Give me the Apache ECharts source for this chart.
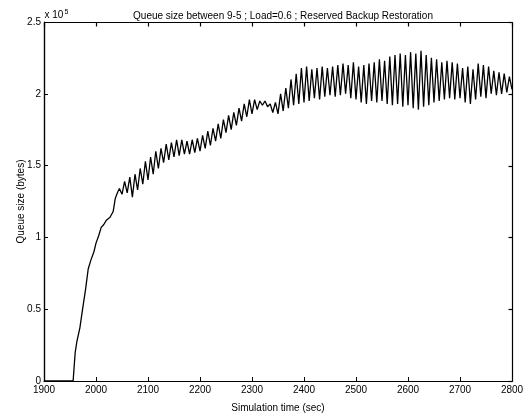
<!DOCTYPE html>
<html>
<head>
<meta charset="utf-8">
<script src="https://cdn.jsdelivr.net/npm/echarts@6/dist/echarts.min.js"></script>
<style>
  html, body { margin: 0; padding: 0; background: #fff; }
  #chart { width: 530px; height: 418px; }
</style>
</head>
<body>
<div id="chart"></div>
<script>
// simulation time (sec)
const time = [
  1900, 1956, 1958, 1960, 1963, 1969, 1975, 1980, 1985, 1990, 1996, 2000, 2005, 2010, 2015, 2020, 2027, 2033, 2037,
  2040, 2045, 2050, 2055, 2060, 2065, 2070, 2075, 2080, 2085, 2090, 2095,
  2100, 2105, 2110, 2115, 2120, 2125, 2130, 2135, 2140, 2145, 2150, 2155, 2160, 2165, 2170, 2175, 2180, 2185, 2190, 2195,
  2200, 2205, 2210, 2215, 2220, 2225, 2230, 2235, 2240, 2245, 2250, 2255, 2260, 2265, 2270, 2275, 2280, 2285, 2290, 2295,
  2300, 2305, 2310, 2315, 2320, 2325, 2330, 2335, 2340, 2345, 2350, 2355, 2360, 2365, 2370, 2375, 2380, 2385, 2390, 2395,
  2400, 2405, 2410, 2415, 2420, 2425, 2430, 2435, 2440, 2445, 2450, 2455, 2460, 2465, 2470, 2475, 2480, 2485, 2490, 2495,
  2500, 2505, 2510, 2515, 2520, 2525, 2530, 2535, 2540, 2545, 2550, 2555, 2560, 2565, 2570, 2575, 2580, 2585, 2590, 2595,
  2600, 2605, 2610, 2615, 2620, 2625, 2630, 2635, 2640, 2645, 2650, 2655, 2660, 2665, 2670, 2675, 2680, 2685, 2690, 2695,
  2700, 2705, 2710, 2715, 2720, 2725, 2730, 2735, 2740, 2745, 2750, 2755, 2760, 2765, 2770, 2775, 2780, 2785, 2790, 2795,
  2800
]
// queue size in units of 1e5 bytes
const queue = [
  0, 0, 0.10, 0.20, 0.27, 0.37, 0.52, 0.64, 0.78, 0.84, 0.90, 0.96, 1.01, 1.07, 1.09, 1.12, 1.14, 1.18, 1.27,
  1.30, 1.34, 1.30, 1.39, 1.31, 1.42, 1.28, 1.44, 1.33, 1.48, 1.37, 1.53,
  1.40, 1.56, 1.44, 1.60, 1.48, 1.62, 1.52, 1.65, 1.54, 1.66, 1.56, 1.68, 1.57, 1.68, 1.58, 1.67, 1.58, 1.68, 1.59, 1.69,
  1.60, 1.71, 1.62, 1.74, 1.64, 1.76, 1.67, 1.79, 1.69, 1.82, 1.73, 1.85, 1.75, 1.87, 1.78, 1.90, 1.81, 1.93, 1.84, 1.96,
  1.86, 1.96, 1.89, 1.95, 1.92, 1.95, 1.91, 1.93, 1.87, 1.94, 1.86, 2.00, 1.88, 2.04, 1.90, 2.10, 1.92, 2.14, 1.93, 2.18,
  1.94, 2.19, 1.95, 2.17, 1.97, 2.18, 1.96, 2.19, 1.98, 2.18, 1.99, 2.19, 1.98, 2.20, 1.99, 2.21, 2.00, 2.20, 1.97, 2.22,
  1.96, 2.19, 1.94, 2.20, 1.93, 2.21, 1.95, 2.22, 1.94, 2.24, 1.95, 2.23, 1.93, 2.26, 1.92, 2.27, 1.93, 2.28, 1.91, 2.27,
  1.92, 2.29, 1.90, 2.28, 1.89, 2.30, 1.91, 2.27, 1.92, 2.25, 1.94, 2.24, 1.95, 2.22, 1.96, 2.23, 1.97, 2.22, 1.96, 2.21,
  1.97, 2.18, 1.94, 2.19, 1.93, 2.17, 1.96, 2.21, 1.98, 2.20, 1.97, 2.19, 2.00, 2.16, 1.99, 2.15, 2.00, 2.14, 2.01, 2.12,
  2.03
]
const xTicks = [1900, 2000, 2100, 2200, 2300, 2400, 2500, 2600, 2700, 2800]
const yTicks = ['0', '0.5', '1', '1.5', '2', '2.5']

const font = 'Liberation Sans, Arial, Helvetica, sans-serif'
const axisText = { color: '#000', fontSize: 10, fontFamily: font }
const frameLine = { show: true, onZero: false, lineStyle: { color: '#000', width: 1.2 } }
const inTick = { show: true, inside: true, length: 4, lineStyle: { color: '#000', width: 1 } }

const chart = echarts.init(document.getElementById('chart'), null, { renderer: 'canvas' })
chart.setOption({
  animation: false,
  backgroundColor: '#fff',
  title: {
    text: 'Queue size between 9-5 ; Load=0.6 ; Reserved Backup Restoration',
    left: 278, top: 6, textAlign: 'center',
    textStyle: { fontSize: 10, fontWeight: 'normal', color: '#000', fontFamily: font },
  },
  grid: { left: 44, right: 18, top: 22, bottom: 33 },
  xAxis: {
    type: 'value', min: 1900, max: 2800, interval: 100,
    name: 'Simulation time (sec)', nameLocation: 'middle', nameGap: 22, nameMoveOverlap: false,
    nameTextStyle: axisText,
    axisLine: frameLine, axisTick: inTick,
    axisLabel: { ...axisText, margin: 4, formatter: v => String(v) },
    splitLine: { show: false },
  },
  yAxis: {
    type: 'value', min: 0, max: 2.5, interval: 0.5,
    name: 'Queue size (bytes)', nameLocation: 'middle', nameGap: 18, nameMoveOverlap: false,
    nameTextStyle: axisText,
    axisLine: frameLine, axisTick: inTick,
    axisLabel: { ...axisText, margin: 3, formatter: (v, i) => yTicks[i] },
    splitLine: { show: false },
  },
  series: [{
    type: 'line',
    data: time.map((t, i) => [t, queue[i]]),
    symbol: 'none',
    lineStyle: { color: '#000', width: 1.3 },
  }],
})

// box frame with inward ticks on top/right, placed through the axis scales
const px = p => Math.round(p) + 0.5
const [lx, ty] = chart.convertToPixel({ gridIndex: 0 }, [1900, 2.5]).map(px)
const [rx, by] = chart.convertToPixel({ gridIndex: 0 }, [2800, 0]).map(px)
const stroke = { stroke: '#000', lineWidth: 1.2 }
const seg = (x1, y1, x2, y2) => ({ type: 'line', z: 50, shape: { x1, y1, x2, y2 }, style: stroke })
const frame = [
  seg(lx, ty, rx, ty), seg(rx, ty, rx, by), seg(lx, by, rx, by), seg(lx, ty, lx, by),
]
xTicks.forEach(v => {
  const x = px(chart.convertToPixel({ xAxisIndex: 0 }, v))
  frame.push(seg(x, ty, x, ty + 4))
})
yTicks.forEach(s => {
  const y = px(chart.convertToPixel({ yAxisIndex: 0 }, Number(s)))
  frame.push(seg(rx, y, rx - 4, y))
})
frame.push({
  type: 'text', left: lx, top: 9,
  style: {
    text: '{b|x 10}{s|5}',
    rich: {
      b: { fontSize: 10, fontFamily: font, fill: '#000' },
      s: { fontSize: 7, fontFamily: font, fill: '#000', verticalAlign: 'top', padding: [0, 0, 6, 1] },
    },
  },
})
chart.setOption({ graphic: frame })
</script>
</body>
</html>
